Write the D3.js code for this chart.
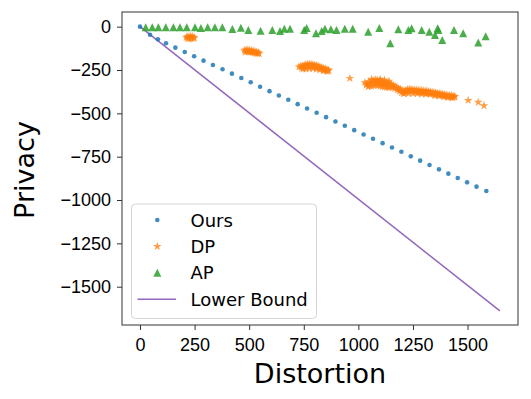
<!DOCTYPE html>
<html>
<head>
<meta charset="utf-8">
<script src="https://cdn.jsdelivr.net/npm/d3@7"></script>
<style>
  body { margin: 0; background: #fff; }
  svg { font-family: "DejaVu Sans", sans-serif; }
</style>
</head>
<body>
<svg id="chart"></svg>
<script>
// values
const xTicks = [0, 250, 500, 750, 1000, 1250, 1500];
const yTicks = [0, -250, -500, -750, -1000, -1250, -1500];

const ours = [
  [0, 0], [46, -47], [82, -73], [119, -96], [162, -121], [205, -146], [248, -171],
  [291, -196], [334, -221], [378, -246], [421, -271], [464, -296], [507, -321],
  [550, -347], [593, -372], [636, -397], [679, -422], [722, -447], [765, -472],
  [809, -497], [852, -522], [895, -547], [938, -572], [981, -597], [1024, -622],
  [1067, -647], [1111, -672], [1154, -697], [1197, -722], [1240, -748], [1283, -773],
  [1326, -798], [1369, -823], [1412, -848], [1455, -873], [1498, -898], [1541, -923],
  [1586, -948]
];

const dp = [
  // first group
  [212, -60], [220, -56], [230, -55], [240, -57], [248, -62], [216, -66], [226, -64],
  [236, -63], [246, -68], [222, -70], [234, -70],
  // second group
  [478, -136], [486, -134], [494, -134], [502, -136], [510, -138], [518, -140], [526, -143],
  [534, -146], [542, -149], [482, -146], [490, -144], [498, -145], [506, -147], [514, -149],
  [522, -151], [530, -153], [538, -155], [546, -156],
  // third group
  [728, -232], [736, -228], [744, -226], [752, -222], [760, -219], [768, -217], [776, -216],
  [784, -217], [792, -219], [800, -221], [808, -224], [816, -228], [824, -232], [832, -236],
  [840, -240], [848, -243], [856, -246], [864, -250], [740, -238], [750, -234], [760, -230],
  [770, -229], [780, -229], [790, -230], [800, -232], [810, -235], [820, -239], [830, -243],
  [840, -248], [850, -252], [862, -256], [746, -244], [760, -244], [776, -242], [792, -242],
  [808, -244], [824, -248], [840, -254], [856, -258],
  [961, -298],
  // big group
  [1030, -322], [1040, -330], [1048, -318], [1056, -326], [1036, -336], [1045, -346],
  [1064, -312], [1072, -308], [1080, -306], [1088, -310], [1096, -312], [1104, -314],
  [1112, -316], [1120, -320], [1128, -322], [1136, -326], [1144, -330], [1152, -334],
  [1160, -338], [1168, -344], [1068, -326], [1078, -322], [1088, -326], [1098, -328],
  [1108, -332], [1118, -334], [1128, -338], [1138, -340], [1148, -346], [1158, -350],
  [1166, -356], [1060, -304], [1100, -304], [1120, -308], [1140, -314],
  [1050, -340], [1060, -344], [1070, -340], [1080, -338], [1090, -340], [1100, -342],
  [1110, -346], [1120, -348], [1130, -350], [1140, -352],
  [1176, -350], [1184, -356], [1192, -360], [1200, -366], [1178, -366],
  [1188, -372], [1198, -380], [1206, -386], [1210, -372], [1218, -366], [1226, -362],
  [1234, -360], [1242, -362], [1250, -364], [1216, -378], [1226, -374], [1236, -372],
  [1246, -374], [1258, -364], [1266, -366], [1274, -366], [1282, -368], [1290, -368],
  [1298, -370], [1306, -370], [1314, -372], [1322, -374], [1330, -376], [1338, -378],
  [1346, -380], [1354, -382], [1362, -384], [1370, -386], [1378, -388], [1386, -390],
  [1394, -392], [1402, -394], [1410, -396], [1418, -398], [1426, -398], [1434, -400],
  [1442, -402], [1262, -376], [1272, -378], [1282, -380], [1292, -380], [1302, -382],
  [1312, -382], [1322, -384], [1332, -386], [1342, -388], [1352, -390], [1362, -392],
  [1372, -394], [1382, -396], [1392, -400], [1402, -402], [1412, -404], [1422, -406],
  [1432, -408], [1440, -406], [1210, -384], [1230, -386], [1250, -386], [1270, -386],
  [1290, -388], [1310, -388], [1330, -390], [1350, -398], [1370, -400], [1390, -404],
  [1410, -408], [1430, -410],
  [1503, -425], [1549, -436], [1575, -456]
];

const ap = [
  [26, -4], [56, -4], [84, -3], [118, -4], [153, -4], [183, -4], [214, -3], [252, -4],
  [279, -8], [310, -4], [343, -4], [377, -4], [423, -13], [462, -6], [496, -19], [552, -23],
  [606, -19], [641, -25], [661, -12], [687, -12], [752, -19], [763, -8], [806, -38],
  [832, -25], [847, -12], [874, -15], [900, -19], [938, -12], [974, -12], [1045, -29],
  [1096, -8], [1146, -96], [1183, -15], [1229, -19], [1244, -9], [1290, -19], [1325, -29],
  [1351, -48], [1363, -9], [1366, -19], [1384, -77], [1438, -19], [1480, -38], [1549, -92],
  [1583, -56]
];

const lowerBound = [[0, 0], [1648, -1640]];

const legendItems = ["Ours", "DP", "AP", "Lower Bound"];

const W = 531, H = 399;
const plot = { left: 122, right: 518, top: 12, bottom: 325 };
const colors = { ours: "#1f77b4", dp: "#ff7f0e", ap: "#2ca02c", lb: "#9467bd" };

const svg = d3.select("#chart").attr("width", W).attr("height", H);

const x = d3.scaleLinear().domain([-82.4, 1731]).range([plot.left, plot.right]);
const y = d3.scaleLinear().domain([-1721, 84.6]).range([plot.bottom, plot.top]);

// marker shapes (matplotlib-like)
function starPath(r) {
  const ri = r * 0.381966;
  const pts = [];
  for (let i = 0; i < 10; i++) {
    const a = -Math.PI / 2 + i * Math.PI / 5;
    const rr = i % 2 === 0 ? r : ri;
    pts.push([rr * Math.cos(a), rr * Math.sin(a)]);
  }
  return "M" + pts.map(p => p.join(",")).join("L") + "Z";
}
function triPath(h) {
  return `M0,${-h}L${h},${h}L${-h},${h}Z`;
}

// axes
svg.append("g")
  .attr("transform", `translate(0,${plot.bottom})`)
  .call(d3.axisBottom(x).tickValues(xTicks).tickSize(5).tickPadding(8).tickFormat(d3.format("d")))
  .call(g => g.select(".domain").remove())
  .call(g => g.selectAll("text").style("font-size", "18px").attr("fill", "#000"))
  .call(g => g.selectAll("line").attr("stroke", "#333"));

svg.append("g")
  .attr("transform", `translate(${plot.left},0)`)
  .call(d3.axisLeft(y).tickValues(yTicks).tickSize(5).tickPadding(6).tickFormat(d3.format("d")))
  .call(g => g.select(".domain").remove())
  .call(g => g.selectAll("text").style("font-size", "18px").attr("fill", "#000"))
  .call(g => g.selectAll("line").attr("stroke", "#333"));

// lower bound line
svg.append("path")
  .datum(lowerBound)
  .attr("d", d3.line().x(d => x(d[0])).y(d => y(d[1])))
  .attr("fill", "none")
  .attr("stroke", colors.lb)
  .attr("stroke-width", 1.5);

// Ours
svg.append("g").selectAll("circle")
  .data(ours).join("circle")
  .attr("cx", d => x(d[0])).attr("cy", d => y(d[1]))
  .attr("r", 2.3)
  .attr("fill", colors.ours).attr("fill-opacity", 0.85);

// DP
svg.append("g").selectAll("path")
  .data(dp).join("path")
  .attr("d", starPath(4.6))
  .attr("transform", d => `translate(${x(d[0])},${y(d[1])})`)
  .attr("fill", colors.dp).attr("fill-opacity", 0.75);

// AP
svg.append("g").selectAll("path")
  .data(ap).join("path")
  .attr("d", triPath(4))
  .attr("transform", d => `translate(${x(d[0])},${y(d[1])})`)
  .attr("fill", colors.ap).attr("fill-opacity", 0.85);

// frame
svg.append("rect")
  .attr("x", plot.left).attr("y", plot.top)
  .attr("width", plot.right - plot.left).attr("height", plot.bottom - plot.top)
  .attr("fill", "none").attr("stroke", "#333").attr("stroke-width", 1);

// legend
const lg = svg.append("g");
lg.append("rect")
  .attr("x", 131.5).attr("y", 204).attr("width", 185).attr("height", 114.5)
  .attr("rx", 4).attr("fill", "#fff").attr("fill-opacity", 0.8)
  .attr("stroke", "#d5d5d5").attr("stroke-width", 1);

const rowY = i => 220 + i * 26.4;
const markX = 157.3;
lg.append("circle").attr("cx", markX).attr("cy", rowY(0)).attr("r", 2.3)
  .attr("fill", colors.ours).attr("fill-opacity", 0.85);
lg.append("path").attr("d", starPath(4.6))
  .attr("transform", `translate(${markX},${rowY(1)})`)
  .attr("fill", colors.dp).attr("fill-opacity", 0.75);
lg.append("path").attr("d", triPath(4))
  .attr("transform", `translate(${markX},${rowY(2)})`)
  .attr("fill", colors.ap).attr("fill-opacity", 0.85);
lg.append("line").attr("x1", 137.5).attr("x2", 176).attr("y1", rowY(3)).attr("y2", rowY(3))
  .attr("stroke", colors.lb).attr("stroke-width", 1.5);

lg.selectAll("text")
  .data(legendItems).join("text")
  .attr("x", 190.5).attr("y", (d, i) => rowY(i) + 6.5)
  .style("font-size", "18px")
  .text(d => d);

// axis titles
svg.append("text")
  .attr("x", (plot.left + plot.right) / 2).attr("y", 382.5)
  .attr("text-anchor", "middle").style("font-size", "27px")
  .text("Distortion");

svg.append("text")
  .attr("transform", `translate(34,170) rotate(-90)`)
  .attr("text-anchor", "middle").style("font-size", "27px")
  .text("Privacy");
</script>
</body>
</html>
